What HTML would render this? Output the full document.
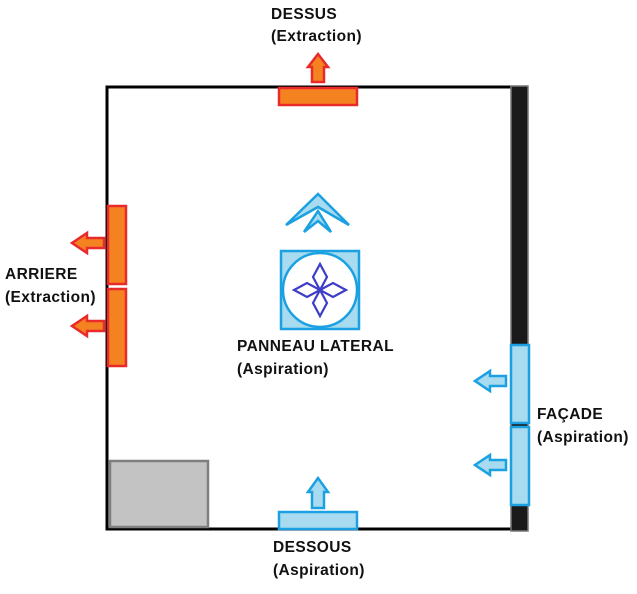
<!DOCTYPE html>
<html><head><meta charset="utf-8"><style>body{margin:0;background:#fff}text{font-family:"Liberation Sans",sans-serif;font-weight:bold;font-size:15.5px;letter-spacing:0.4px;fill:#111}</style></head><body>
<svg width="637" height="589" viewBox="0 0 637 589">
<rect x="107" y="87" width="405" height="442" fill="none" stroke="#000" stroke-width="3"/>
<rect x="511" y="86" width="17" height="445" fill="#1a1a1a" stroke="#777" stroke-width="1.5"/>
<rect x="110" y="461" width="98" height="66" fill="#c3c3c3" stroke="#7f7f7f" stroke-width="2.5"/>
<g fill="#f58220" stroke="#e82a2a" stroke-width="2.5">
<rect x="279" y="88" width="78" height="17"/>
<rect x="108" y="206" width="18" height="78"/>
<rect x="108" y="289" width="18" height="77"/>
<path d="M312 82V67H308L318 54L328 67H324V82Z"/>
<path d="M104 238H87V233L72 243L87 253V248H104Z"/>
<path d="M104 321H87V316L72 326L87 336V331H104Z"/>
</g>
<g fill="#a8dbef" stroke="#1ba1e2" stroke-width="2.5">
<rect x="511" y="345" width="18" height="78"/>
<rect x="511" y="427" width="18" height="78"/>
<rect x="279" y="512" width="78" height="17"/>
<path d="M506 376H490V371L475 381L490 391V386H506Z"/>
<path d="M506 460H490V455L475 465L490 475V470H506Z"/>
<path d="M312 508V492H308L318 478L328 492H324V508Z"/>
<rect x="281" y="251" width="78" height="78"/>
</g>
<circle cx="320" cy="290" r="37" fill="#fff" stroke="#1ba1e2" stroke-width="2.5"/>
<g fill="#a8dbef" stroke="#1ba1e2" stroke-width="2.5" stroke-linejoin="miter">
<path d="M286 225L318 194L349 225L318 207Z"/>
<path d="M304 232L318 211L331 232L318 221Z"/>
</g>
<g fill="none" stroke="#3d3dc8" stroke-width="2.2">
<path d="M320 290L313 277L320 264L327 277Z"/>
<path d="M320 290L313 303L320 316L327 303Z"/>
<path d="M320 290L307 283L294 290L307 297Z"/>
<path d="M320 290L333 283L346 290L333 297Z"/>
</g>
<text x="271" y="19">DESSUS</text><text x="271" y="41">(Extraction)</text>
<text x="5" y="279">ARRIERE</text><text x="5" y="302">(Extraction)</text>
<text x="237" y="351">PANNEAU LATERAL</text><text x="237" y="374">(Aspiration)</text>
<text x="537" y="419">FAÇADE</text><text x="537" y="442">(Aspiration)</text>
<text x="273" y="552">DESSOUS</text><text x="273" y="575">(Aspiration)</text>
</svg>
</body></html>
